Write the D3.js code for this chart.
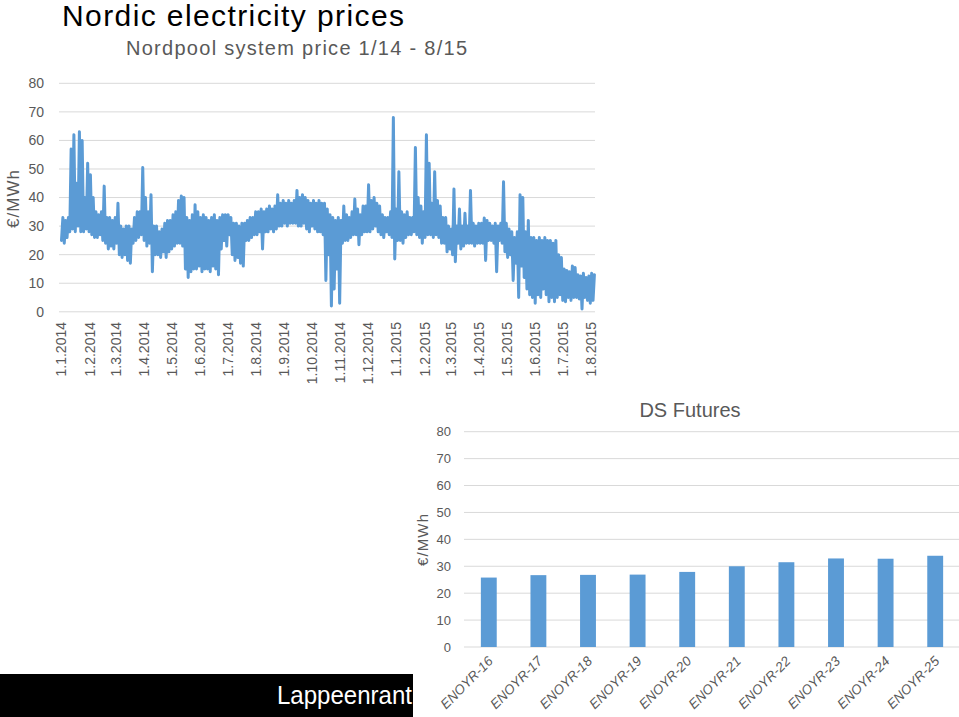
<!DOCTYPE html>
<html>
<head>
<meta charset="utf-8">
<script src="https://cdn.jsdelivr.net/npm/d3@7"></script>
<style>
  html, body { margin: 0; padding: 0; background: #fff; }
  svg { display: block; }
  text { font-family: "Liberation Sans", Arial, sans-serif; }
</style>
</head>
<body>
<svg id="chart" width="959" height="717"></svg>
<script>
// ---------------- DATA ----------------
// Nordpool system price, sampled every 3 days from 1.1.2014: high and low of each period (€/MWh)
const startDate = "2014-01-01";
const stepDays = 3;
const priceHigh = [
  33,32,33,57,62,45,63,60,40,52,
  48,40,35,34,35,44,33,33,32,33,
  38,30,29,30,30,29,33,35,35,50.5,
  40,35,41,30,30,28,29,31,32,32,
  34,35,39,40.5,40,33,32,34,37.5,35,
  33,34,33,32,33,34,32,33,34,34,
  34,33,31,31,30,31,31,32,33,33,
  35,35,36,35,36,37,36,37,41,38,
  39,38,39,38,39,42.5,40,41,40,39,
  38,39,38,39,38,38,36,34,33,32,
  33,32,37,34,33,35,39.5,36,34,37,
  37,44.5,39,40,38,37,34,33,33,35,
  68,36,49,35,34,35,33,33,57.5,40,
  37,35,62,52,38,49,39,37,33,33,
  30,29,43,30,36,30,34.5,30,42.5,31,
  30,31,31,32.8,32,31,30,31,30,31,
  45.5,31,29,28,26,28,41,40,28,32,
  26,26,25,26,25,26,25,25,24,25,
  20,19,15,14.5,14,16,15.5,13,12.5,13.5,
  12,12.5,13.5,13
];
const priceLow = [
  25,24,26,28,29,28,30,28,28,29,
  28,27,26,26,27,25,24,22,23,22,
  24,20,19,20,18,17,24,25,26,27,
  25,23,24,14,20,20,19,21,19,21,
  22,23,24,24,23,15,12,14,15,15,
  16,14,15,15,14,16,15,13,22,25,
  23,27,20,18,19,17,16,25,25,26,
  27,27,28,22,28,28,29,28,29,30,
  30,31,30,31,31,31,30,30,31,29,
  28,30,29,28,28,27,11,20,2,8,
  15,3,24,25,25,26,27,27,23.5,27,
  28,28,28,29,30,28,27,26,28,27,
  26,18.5,25,25,24,26,27,27,28,27,
  26,24,26,27,27,26,27,26,24,24,
  21,22,20,17.5,24,22,23,24,24,24,
  23,24,24,24,18,25,25,24,14,25,
  24,21,19,20,11,17,5,16,12,8,
  6,5,3,6,5,8,6,3.5,5,3.5,
  5,6,4,3.5,5,4,5,5,4.5,1,
  5,4,3,4
];
const monthLabels = ["1.1.2014","1.2.2014","1.3.2014","1.4.2014","1.5.2014","1.6.2014","1.7.2014",
  "1.8.2014","1.9.2014","1.10.2014","1.11.2014","1.12.2014","1.1.2015","1.2.2015","1.3.2015",
  "1.4.2015","1.5.2015","1.6.2015","1.7.2015","1.8.2015"];
const priceTicks = [0,10,20,30,40,50,60,70,80];

// DS Futures
const futuresCategories = ["ENOYR-16","ENOYR-17","ENOYR-18","ENOYR-19","ENOYR-20",
  "ENOYR-21","ENOYR-22","ENOYR-23","ENOYR-24","ENOYR-25"];
const futuresValues = [25.8, 26.7, 26.8, 26.9, 27.9, 30.0, 31.5, 32.9, 32.8, 33.9];
const futuresTicks = [0,10,20,30,40,50,60,70,80];

// ---------------- DRAW ----------------
const svg = d3.select("#chart");
const grey = "#595959", gridC = "#D9D9D9", blue = "#5B9BD5";
svg.append("rect").attr("width", 959).attr("height", 717).attr("fill", "#fff");

// Titles
svg.append("text").attr("x", 62).attr("y", 26).attr("font-size", 30).attr("fill", "#000")
  .attr("textLength", 342).attr("lengthAdjust", "spacing").text("Nordic electricity prices");
svg.append("text").attr("x", 126).attr("y", 55).attr("font-size", 20).attr("fill", grey)
  .attr("textLength", 341).attr("lengthAdjust", "spacing").text("Nordpool system price 1/14 - 8/15");

// ---- Line chart ----
const parseDMY = d3.utcParse("%d.%m.%Y");
const parseISO = d3.utcParse("%Y-%m-%d");
const t0 = parseISO(startDate);
const x = d3.scaleUtc().domain([parseDMY("1.1.2014"), parseDMY("1.8.2015")]).range([61.5, 591.2]);
const y = d3.scaleLinear().domain([0, 80]).range([311.8, 83.3]);

const gL = svg.append("g");
gL.selectAll("line.grid").data(priceTicks).join("line")
  .attr("x1", 59).attr("x2", 595).attr("y1", d => y(d)).attr("y2", d => y(d))
  .attr("stroke", gridC).attr("stroke-width", 1);
gL.selectAll("text.yt").data(priceTicks).join("text")
  .attr("x", 44).attr("y", d => y(d)).attr("dy", "0.35em").attr("text-anchor", "end")
  .attr("font-size", 14).attr("fill", grey).text(d => d);
gL.selectAll("text.xt").data(monthLabels).join("text")
  .attr("transform", d => `translate(${x(parseDMY(d))},322) rotate(-90)`)
  .attr("dy", "0.35em").attr("text-anchor", "end")
  .attr("font-size", 14).attr("fill", grey).text(d => d);
gL.append("text").attr("transform", "translate(19,199) rotate(-90)")
  .attr("text-anchor", "middle").attr("font-size", 17).attr("fill", grey)
  .attr("textLength", 58).attr("lengthAdjust", "spacing").text("€/MWh");

const pts = [];
priceLow.forEach((lo, i) => {
  const d0 = d3.utcDay.offset(t0, i * stepDays);
  pts.push({ t: d0, v: lo });
  pts.push({ t: d3.utcHour.offset(d0, 36), v: priceHigh[i] });
});
gL.append("path").datum(pts)
  .attr("d", d3.line().x(d => x(d.t)).y(d => y(d.v)))
  .attr("fill", "none").attr("stroke", blue).attr("stroke-width", 3)
  .attr("stroke-linejoin", "round").attr("stroke-linecap", "round");

// ---- Black footer bar ----
svg.append("rect").attr("x", 0).attr("y", 674).attr("width", 413).attr("height", 43).attr("fill", "#000");
svg.append("text").attr("x", 277).attr("y", 704).attr("font-size", 25).attr("fill", "#fff")
  .attr("font-family", "'Open Sans', sans-serif")
  .attr("textLength", 135).attr("lengthAdjust", "spacingAndGlyphs").text("Lappeenrant");

// ---- Bar chart ----
const xb = d3.scaleBand().domain(futuresCategories).range([464, 960]).paddingInner(0.68).paddingOuter(0.34);
const yb = d3.scaleLinear().domain([0, 80]).range([647, 431.7]);
const gB = svg.append("g");
gB.selectAll("line.grid").data(futuresTicks).join("line")
  .attr("x1", 464).attr("x2", 959).attr("y1", d => yb(d)).attr("y2", d => yb(d))
  .attr("stroke", gridC).attr("stroke-width", 1);
gB.selectAll("text.yt").data(futuresTicks).join("text")
  .attr("x", 451).attr("y", d => yb(d)).attr("dy", "0.35em").attr("text-anchor", "end")
  .attr("font-size", 13).attr("fill", grey).text(d => d);
gB.selectAll("rect.bar").data(futuresValues).join("rect")
  .attr("x", (d, i) => xb(futuresCategories[i])).attr("width", xb.bandwidth())
  .attr("y", d => yb(d)).attr("height", d => yb(0) - yb(d)).attr("fill", blue);
gB.selectAll("text.xt").data(futuresCategories).join("text")
  .attr("transform", d => `translate(${xb(d) + xb.bandwidth() / 2 + 5},662) rotate(-45)`)
  .attr("text-anchor", "end").attr("font-size", 13.5).attr("font-style", "italic")
  .attr("fill", grey).text(d => d);
gB.append("text").attr("transform", "translate(428,540) rotate(-90)")
  .attr("text-anchor", "middle").attr("font-size", 15).attr("fill", grey)
  .attr("textLength", 52).attr("lengthAdjust", "spacing").text("€/MWh");
gB.append("text").attr("x", 690).attr("y", 417).attr("text-anchor", "middle")
  .attr("font-size", 20).attr("fill", grey).text("DS Futures");
</script>
</body>
</html>
